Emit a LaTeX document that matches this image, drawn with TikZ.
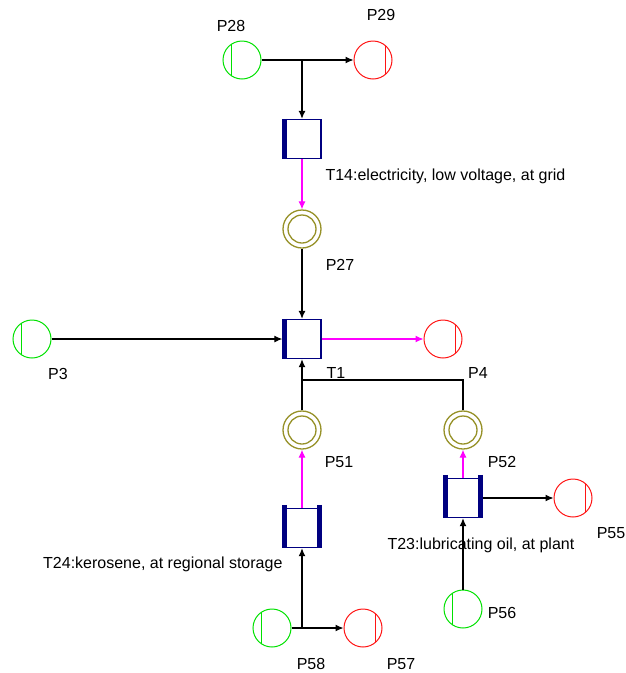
\documentclass[tikz,border=0pt]{standalone}
\usepackage{fontspec}
\setmainfont{Liberation Sans}
\usepackage{xcolor}
\usepackage{tikz}
\usetikzlibrary{shapes,arrows.meta}
\definecolor{srcgreen}{RGB}{0,225,0}
\definecolor{sinkred}{RGB}{255,20,20}
\definecolor{ringolive}{RGB}{150,145,40}
\definecolor{flowpink}{RGB}{255,0,255}
\definecolor{boxnavy}{RGB}{0,0,128}
\tikzstyle{line} = [draw, -{Latex[length=8pt,width=7pt]}, line width=1.1pt]
\tikzstyle{outflow} = [line, flowpink]
\tikzstyle{place} = [circle, draw, line width=1pt, minimum size=38pt, inner sep=0pt]
\tikzstyle{source} = [place, srcgreen, path picture={\draw[srcgreen, line width=1pt]
  ([xshift=-11pt]path picture bounding box.north) -- ([xshift=-11pt]path picture bounding box.south);}]
\tikzstyle{sink} = [place, sinkred, path picture={\draw[sinkred, line width=1pt]
  ([xshift=12pt]path picture bounding box.north) -- ([xshift=12pt]path picture bounding box.south);}]
\tikzstyle{store} = [place, draw=ringolive, line width=1.3pt, path picture={\draw[ringolive, line width=1.3pt]
  (path picture bounding box.center) circle (14pt);}]
\tikzstyle{trans} = [rectangle, draw=boxnavy, line width=1.4pt, fill=white, minimum width=38pt, minimum height=39pt, inner sep=0pt]
\tikzstyle{bar} = [draw=boxnavy, line width=4.5pt]
\tikzstyle{lbl} = [font=\fontsize{16}{19}\selectfont, inner sep=0pt]

\begin{document}
\begin{tikzpicture}[x=1pt, y=-1pt, line width=1.1pt]
\useasboundingbox (0,0) rectangle (626,673);
%
\node[source] (P28) at (242,60) {};
\node[sink] (P29) at (373,60) {};
\node[trans] (T14) at (302,139) {};
\node[store] (P27) at (302,229) {};
\node[trans] (T1) at (302,339) {};
\node[source] (P3) at (32,339) {};
\node[sink] (P4) at (443,339) {};
\node[store] (P51) at (302,430) {};
\node[store] (P52) at (463,430) {};
\node[trans] (T24) at (302,528) {};
\node[trans] (T23) at (463,498) {};
\node[sink] (P55) at (573,498) {};
\node[source] (P56) at (463,609) {};
\node[source] (P58) at (272,628) {};
\node[sink] (P57) at (363,628) {};
%
\foreach \t in {T14,T1}
  \draw[bar] ([xshift=2pt]\t.north west) -- ([xshift=2pt]\t.south west);
\foreach \t in {T24,T23} {
  \draw[bar] ([xshift=2pt,yshift=3pt]\t.north west) -- ([xshift=2pt]\t.south west);
  \draw[bar] ([xshift=-2pt,yshift=3pt]\t.north east) -- ([xshift=-2pt]\t.south east);
}
%
\coordinate (J28) at (T14 |- P28);
\coordinate (J1) at (302,380);
\coordinate (J58) at (T24 |- P58);
%
\draw (P28) -- (J28);
\path[line] (J28) -- (P29);
\path[line] (J28) -- (T14);
\path[outflow] (T14) -- (P27);
\path[line] (P27) -- (T1);
\path[line] (P3) -- (T1);
\path[outflow] (T1) -- (P4);
\draw (P51) -- (J1);
\draw (P52) |- (J1);
\path[line] (J1) -- (T1);
\path[outflow] (T24) -- (P51);
\path[outflow] (T23) -- (P52);
\path[line] (T23) -- (P55);
\path[line] (P56) -- (T23);
\draw (P58) -- (J58);
\path[line] (J58) -- (P57);
\path[line] (J58) -- (T24);
%
\node[lbl] (lP28) at (231,26) {P28};
\node[lbl] (lP29) at (381,15) {P29};
\node[lbl, anchor=west] (lT14) at (325,176) {T14:electricity, low voltage, at grid};
\node[lbl] (lP27) at (340,265) {P27};
\node[lbl] (lP3) at (58,374) {P3};
\node[lbl] (lT1) at (336,373) {T1};
\node[lbl] (lP4) at (478,373) {P4};
\node[lbl] (lP51) at (339,462) {P51};
\node[lbl] (lP52) at (502,462) {P52};
\node[lbl, anchor=east] (lT24) at (283,564) {T24:kerosene, at regional storage};
\node[lbl, anchor=west] (lT23) at (387,545) {T23:lubricating oil, at plant};
\node[lbl] (lP55) at (611,533) {P55};
\node[lbl] (lP56) at (502,613) {P56};
\node[lbl] (lP58) at (311,664) {P58};
\node[lbl] (lP57) at (401,664) {P57};
\end{tikzpicture}
\end{document}
